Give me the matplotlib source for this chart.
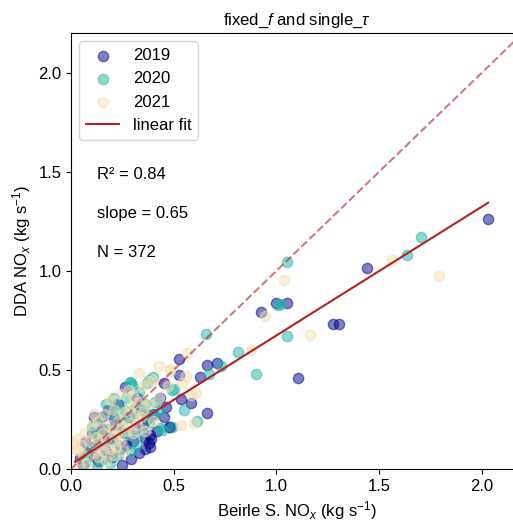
import matplotlib.pyplot as plt
import numpy as np

plt.rcParams['font.family'] = ['Liberation Sans', 'DejaVu Sans']
plt.rcParams['mathtext.fontset'] = 'custom'
plt.rcParams['mathtext.rm'] = 'Liberation Sans'
plt.rcParams['mathtext.it'] = 'Liberation Sans:italic'

# (Beirle, DDA) pairs, per year
x2019 = [2.03, 1.44, 1.05, 1.00, 0.924, 1.273, 1.302, 1.105, 0.66, 0.712, 0.525, 0.527, 0.627,
         0.451, 0.582, 0.533, 0.66, 0.451, 0.435, 0.484, 0.386, 0.264, 0.114, 0.153, 0.378, 0.386,
         0.362, 0.46, 0.476, 0.068, 0.044,
         0.10, 0.12, 0.15, 0.17, 0.20, 0.22, 0.24, 0.26, 0.28, 0.30, 0.31, 0.33, 0.34, 0.35, 0.37,
         0.29, 0.25, 0.20, 0.13, 0.08, 0.18, 0.23, 0.32, 0.40, 0.42, 0.27, 0.16, 0.21, 0.36, 0.39,
         0.06, 0.11]
y2019 = [1.26, 1.015, 0.84, 0.84, 0.79, 0.731, 0.731, 0.461, 0.525, 0.537, 0.554, 0.475, 0.466,
         0.433, 0.332, 0.352, 0.281, 0.261, 0.357, 0.214, 0.172, 0.412, 0.261, 0.264, 0.133, 0.113,
         0.155, 0.315, 0.214, 0.138, 0.054,
         0.18, 0.12, 0.20, 0.09, 0.15, 0.22, 0.10, 0.18, 0.26, 0.14, 0.20, 0.08, 0.30, 0.22, 0.25,
         0.05, 0.02, 0.06, 0.04, 0.08, 0.30, 0.33, 0.36, 0.28, 0.19, 0.12, 0.14, 0.25, 0.10, 0.15,
         0.02, 0.06]

x2020 = [1.703, 1.635, 1.051, 1.02, 1.009, 1.051, 0.655, 0.812, 0.901, 0.729, 0.671, 0.399, 0.37,
         0.293, 0.50, 0.549, 0.615, 0.435, 0.362, 0.402, 0.49, 0.297, 0.231, 0.101, 0.443, 0.492,
         0.068, 0.126, 0.289, 0.378,
         0.12, 0.14, 0.16, 0.18, 0.20, 0.22, 0.24, 0.26, 0.28, 0.30, 0.32, 0.34, 0.36, 0.38, 0.09,
         0.15, 0.19, 0.23, 0.27, 0.31, 0.17, 0.25, 0.41, 0.44, 0.33, 0.21, 0.07, 0.29]
y2020 = [1.173, 1.082, 1.044, 0.833, 0.828, 0.673, 0.68, 0.589, 0.48, 0.52, 0.48, 0.466, 0.436,
         0.436, 0.403, 0.298, 0.244, 0.206, 0.29, 0.273, 0.40, 0.424, 0.301, 0.214, 0.197, 0.214,
         0.029, 0.02, 0.441, 0.45,
         0.17, 0.25, 0.11, 0.20, 0.28, 0.13, 0.20, 0.30, 0.17, 0.25, 0.12, 0.18, 0.33, 0.23, 0.10,
         0.05, 0.03, 0.07, 0.36, 0.31, 0.33, 0.24, 0.34, 0.30, 0.39, 0.36, 0.06, 0.09]

x2021 = [1.561, 1.79, 1.038, 0.945, 1.164, 0.875, 0.566, 0.561, 0.484, 0.43, 0.329, 0.378, 0.541,
         0.606, 0.582, 0.598, 0.533, 0.028, 0.036, 0.484,
         0.05, 0.07, 0.09, 0.10, 0.11, 0.12, 0.13, 0.14, 0.15, 0.16, 0.17, 0.18, 0.19, 0.20, 0.21,
         0.22, 0.23, 0.24, 0.25, 0.26, 0.27, 0.28, 0.29, 0.30, 0.31, 0.32, 0.33, 0.34, 0.35, 0.36,
         0.38, 0.40, 0.13, 0.17, 0.21, 0.08, 0.19, 0.24, 0.28, 0.16, 0.22, 0.26, 0.11, 0.30, 0.35,
         0.43, 0.47, 0.40, 0.04, 0.06, 0.01, 0.02]
y2021 = [1.056, 0.973, 0.953, 0.773, 0.677, 0.601, 0.587, 0.47, 0.505, 0.522, 0.483, 0.446, 0.433,
         0.382, 0.374, 0.231, 0.222, 0.15, 0.096, 0.497,
         0.12, 0.18, 0.14, 0.22, 0.08, 0.16, 0.24, 0.12, 0.18, 0.28, 0.15, 0.22, 0.10, 0.19, 0.30,
         0.17, 0.24, 0.14, 0.21, 0.29, 0.19, 0.23, 0.32, 0.18, 0.27, 0.22, 0.34, 0.26, 0.29, 0.19,
         0.33, 0.24, 0.06, 0.04, 0.07, 0.03, 0.35, 0.38, 0.40, 0.09, 0.11, 0.09, 0.28, 0.37, 0.42,
         0.36, 0.42, 0.45, 0.02, 0.07, 0.13, 0.10]

fit_slope = 0.65
fit_intercept = 0.024
r2 = 0.84
n_points = 372

fig = plt.figure(figsize=(5.13, 5.21), dpi=100)
ax = fig.add_axes([71 / 513, 52 / 521, 452 / 513, 436 / 521])

ax.scatter(x2019, y2019, s=55, color='darkblue', alpha=0.5, label='2019')
ax.scatter(x2020, y2020, s=55, color='lightseagreen', alpha=0.5, label='2020')
ax.scatter(x2021, y2021, s=55, color='wheat', alpha=0.5, label='2021')

all_x = np.array(x2019 + x2020 + x2021)
fx = np.array([0.02, all_x.max()])
ax.plot(fx, fit_slope * fx + fit_intercept, color='firebrick', lw=1.5, label='linear fit')
ax.plot([0, 2.2], [0, 2.2], color='firebrick', alpha=0.6, ls='--', lw=1.5)

ax.text(0.058, 0.675, 'R² = %.2f' % r2, transform=ax.transAxes, fontsize=12, va='center')
ax.text(0.058, 0.587, 'slope = %.2f' % fit_slope, transform=ax.transAxes, fontsize=12, va='center')
ax.text(0.058, 0.496, 'N = %d' % n_points, transform=ax.transAxes, fontsize=12, va='center')

ax.set_xlim(0, 2.2)
ax.set_ylim(0, 2.2)
ax.set_xticks([0, 0.5, 1.0, 1.5, 2.0])
ax.set_yticks([0, 0.5, 1.0, 1.5, 2.0])
ax.tick_params(labelsize=12)
ax.set_title(r'fixed_$f$ and single_$\tau$', fontsize=12)
ax.set_xlabel(r'Beirle S. NO$_x$ (kg s$^{-1}$)', fontsize=12)
ax.set_ylabel(r'DDA NO$_x$ (kg s$^{-1}$)', fontsize=12)
ax.legend(loc='upper left', fontsize=12)

fig.savefig('out.png', dpi=100)
